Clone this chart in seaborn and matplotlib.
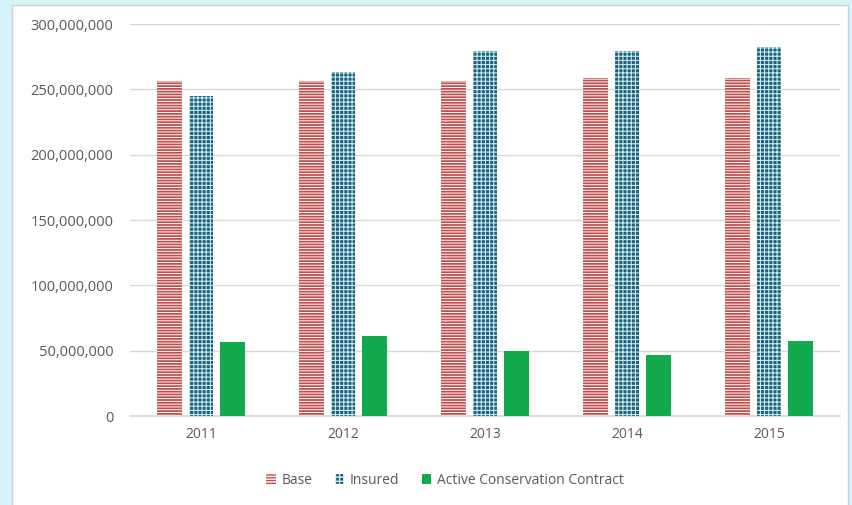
import matplotlib
matplotlib.use("Agg")
import matplotlib.pyplot as plt
import matplotlib.patches as mpatches
from matplotlib.ticker import FuncFormatter
import seaborn as sns
import pandas as pd

years = ["2011", "2012", "2013", "2014", "2015"]
base = [256_500_000, 256_500_000, 256_500_000, 258_500_000, 258_500_000]
insured = [245_000_000, 263_500_000, 279_000_000, 279_000_000, 282_500_000]
active = [56_500_000, 61_500_000, 49_500_000, 46_500_000, 57_500_000]
series = ["Base", "Insured", "Active Conservation Contract"]

df = pd.DataFrame({
    "Year": years * 3,
    "Value": base + insured + active,
    "Series": [series[0]] * 5 + [series[1]] * 5 + [series[2]] * 5,
})

sns.set_theme(style="white")
plt.rcParams["font.family"] = ["Open Sans", "DejaVu Sans"]

fig = plt.figure(figsize=(8.53, 5.05), dpi=100)
fig.patch.set_facecolor("#d5f4fa")
panel = mpatches.Rectangle((12 / 853, -0.01), 836 / 853, 500 / 505 + 0.01,
                           transform=fig.transFigure, facecolor="white",
                           edgecolor="#d0d0d0", linewidth=1, zorder=-5)
fig.patches.append(panel)

ax = fig.add_axes([130 / 853, 89 / 505, 710 / 853, 392 / 505])
ax.set_zorder(2)
ax.patch.set_alpha(0)

face = {"Base": "#c0504d", "Insured": "#d9f5fb", "Active Conservation Contract": "#12a94f"}
sns.barplot(data=df, x="Year", y="Value", hue="Series", hue_order=series,
            palette=face, width=0.66, gap=0.2, ax=ax, legend=False, zorder=3)

styles = {
    "Base": dict(facecolor="#c0504d", edgecolor="white", hatch="------", hlw=0.7),
    "Insured": dict(facecolor="#235f78", edgecolor="#c8f0f8", hatch="++++", hlw=0.75),
    "Active Conservation Contract": dict(facecolor="#12a94f", edgecolor="#12a94f", hatch=None, hlw=1.0),
}


def style_patch(p, st):
    p.set_facecolor(st["facecolor"])
    p.set_edgecolor(st["edgecolor"])
    p.set_hatch(st["hatch"])
    p.set_linewidth(0)
    if hasattr(p, "set_hatch_linewidth"):
        p.set_hatch_linewidth(st["hlw"])
    else:
        p._hatch_linewidth = st["hlw"]


for container, name in zip(ax.containers, series):
    for bar in container:
        style_patch(bar, styles[name])

ax.set_ylim(0, 300_000_000)
ax.set_yticks(range(0, 300_000_001, 50_000_000))
ax.yaxis.set_major_formatter(FuncFormatter(lambda v, p: f"{int(v):,}"))
ax.grid(axis="y", color="#d9d9d9", linewidth=1, zorder=0)
ax.set_axisbelow(True)
for s in ["top", "right", "left"]:
    ax.spines[s].set_visible(False)
ax.spines["bottom"].set_color("#d9d9d9")
ax.tick_params(axis="y", length=0, labelsize=10.5, labelcolor="#595959", pad=12)
ax.tick_params(axis="x", length=0, labelsize=10, labelcolor="#595959", pad=8)
ax.set_xlabel("")
ax.set_ylabel("")

handles = []
for name in series:
    h = mpatches.Patch(label=name)
    style_patch(h, styles[name])
    handles.append(h)
fig.legend(handles=handles, loc="center", bbox_to_anchor=(445 / 853, 1 - 480 / 505),
           ncol=3, frameon=False, fontsize=10, handlelength=0.7, handleheight=0.7,
           handletextpad=0.4, columnspacing=1.6, labelcolor="#595959")

fig.savefig("out.png", dpi=100, facecolor=fig.get_facecolor())
